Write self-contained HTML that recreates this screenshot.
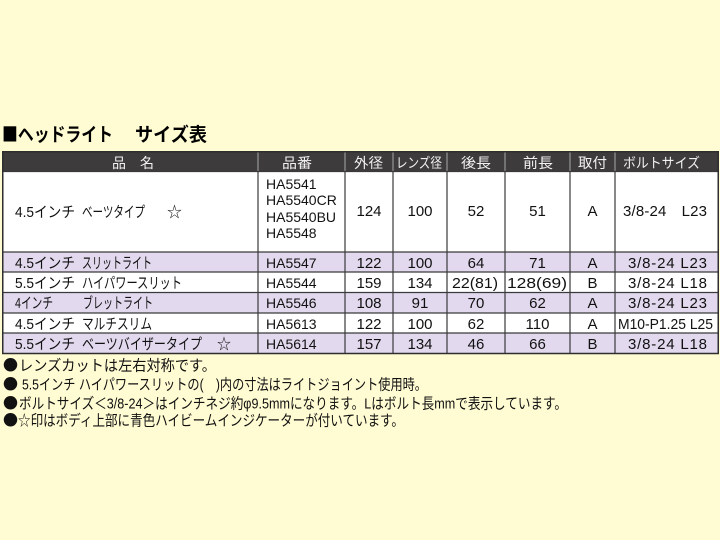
<!DOCTYPE html>
<html><head><meta charset="utf-8"><style>
html,body{margin:0;padding:0;background:#fffbd2;}
svg{display:block;}
text{font-family:"Liberation Sans","Noto Sans CJK JP",sans-serif;fill:#111;}
.j{font-family:"Noto Sans CJK JP",sans-serif;}
.h{fill:#f2f2f2;font-size:14px;}
.n{font-size:15px;text-anchor:middle;}
.c{font-size:15px;}
.p{font-size:14px;}
.t{font-size:19px;font-weight:bold;fill:#000;}
</style></head><body>
<svg width="720" height="540" viewBox="0 0 720 540" xmlns="http://www.w3.org/2000/svg">
<rect width="720" height="540" fill="#fffbd2"/>
<!-- title -->
<text class="t j" x="2" y="141" textLength="111" lengthAdjust="spacingAndGlyphs">■ヘッドライト</text>
<text class="t j" x="135" y="141" textLength="72" lengthAdjust="spacingAndGlyphs">サイズ表</text>

<!-- row fills -->
<rect x="3" y="152" width="715" height="19.5" fill="#3d3b3c"/>
<rect x="3" y="171.5" width="715" height="80.5" fill="#ffffff"/>
<rect x="3" y="252" width="715" height="20" fill="#e2d9ee"/>
<rect x="3" y="272" width="715" height="20.5" fill="#ffffff"/>
<rect x="3" y="292.5" width="715" height="20.5" fill="#e2d9ee"/>
<rect x="3" y="313" width="715" height="20" fill="#ffffff"/>
<rect x="3" y="333" width="715" height="20.5" fill="#e2d9ee"/>

<!-- header separators -->
<g stroke="#a8a8a8" stroke-width="1">
<line x1="258" y1="152" x2="258" y2="171.5"/>
<line x1="345" y1="152" x2="345" y2="171.5"/>
<line x1="393" y1="152" x2="393" y2="171.5"/>
<line x1="447" y1="152" x2="447" y2="171.5"/>
<line x1="505" y1="152" x2="505" y2="171.5"/>
<line x1="570" y1="152" x2="570" y2="171.5"/>
<line x1="615" y1="152" x2="615" y2="171.5"/>
</g>
<!-- body grid -->
<g stroke="#3a3a3a" stroke-width="1.2">
<line x1="258" y1="171.5" x2="258" y2="353.5"/>
<line x1="345" y1="171.5" x2="345" y2="353.5"/>
<line x1="393" y1="171.5" x2="393" y2="353.5"/>
<line x1="447" y1="171.5" x2="447" y2="353.5"/>
<line x1="505" y1="171.5" x2="505" y2="353.5"/>
<line x1="570" y1="171.5" x2="570" y2="353.5"/>
<line x1="615" y1="171.5" x2="615" y2="353.5"/>
<line x1="3" y1="171.5" x2="718" y2="171.5"/>
<line x1="3" y1="252" x2="718" y2="252"/>
<line x1="3" y1="272" x2="718" y2="272"/>
<line x1="3" y1="292.5" x2="718" y2="292.5"/>
<line x1="3" y1="313" x2="718" y2="313"/>
<line x1="3" y1="333" x2="718" y2="333"/>
</g>
<rect x="2.75" y="151.75" width="715.5" height="201.75" fill="none" stroke="#2e2e2e" stroke-width="1.5"/>

<!-- header text -->
<text class="h j" x="112" y="168">品</text>
<text class="h j" x="140" y="168">名</text>
<text class="h j" x="282" y="168" textLength="30" lengthAdjust="spacingAndGlyphs">品番</text>
<text class="h j" x="354" y="168" textLength="29" lengthAdjust="spacingAndGlyphs">外径</text>
<text class="h j" x="396" y="168" textLength="46" lengthAdjust="spacingAndGlyphs">レンズ径</text>
<text class="h j" x="461" y="168" textLength="30" lengthAdjust="spacingAndGlyphs">後長</text>
<text class="h j" x="523" y="168" textLength="30" lengthAdjust="spacingAndGlyphs">前長</text>
<text class="h j" x="578" y="168" textLength="29" lengthAdjust="spacingAndGlyphs">取付</text>
<text class="h j" x="623" y="168" textLength="77" lengthAdjust="spacingAndGlyphs">ボルトサイズ</text>

<!-- row 1 -->
<text class="c" x="15" y="217" textLength="60" lengthAdjust="spacingAndGlyphs">4.5インチ</text>
<text class="c" x="82" y="217" textLength="63" lengthAdjust="spacingAndGlyphs">ベーツタイプ</text>
<text class="c j" x="167" y="217" textLength="15" lengthAdjust="spacingAndGlyphs">☆</text>
<text class="p" x="266" y="189">HA5541</text>
<text class="p" x="266" y="205">HA5540CR</text>
<text class="p" x="266" y="222">HA5540BU</text>
<text class="p" x="266" y="238">HA5548</text>
<text class="n" x="369" y="216">124</text>
<text class="n" x="420" y="216">100</text>
<text class="n" x="476" y="216">52</text>
<text class="n" x="537.5" y="216">51</text>
<text class="n" x="592.5" y="216">A</text>
<text class="c" x="623" y="216" textLength="84" lengthAdjust="spacing">3/8-24　L23</text>

<!-- row 2 -->
<text class="c" x="15" y="268" textLength="60" lengthAdjust="spacingAndGlyphs">4.5インチ</text>
<text class="c" x="82" y="268" textLength="70" lengthAdjust="spacingAndGlyphs">スリットライト</text>
<text class="p" x="266" y="268">HA5547</text>
<text class="n" x="369" y="268">122</text>
<text class="n" x="420" y="268">100</text>
<text class="n" x="476" y="268">64</text>
<text class="n" x="537.5" y="268">71</text>
<text class="n" x="592.5" y="268">A</text>
<text class="c" x="628" y="268" textLength="79" lengthAdjust="spacing">3/8-24 L23</text>

<!-- row 3 -->
<text class="c" x="15" y="288" textLength="60" lengthAdjust="spacingAndGlyphs">5.5インチ</text>
<text class="c" x="82" y="288" textLength="100" lengthAdjust="spacingAndGlyphs">ハイパワースリット</text>
<text class="p" x="266" y="288">HA5544</text>
<text class="n" x="369" y="288">159</text>
<text class="n" x="420" y="288">134</text>
<text class="c" x="452" y="288" textLength="46" lengthAdjust="spacingAndGlyphs">22(81)</text>
<text class="c" x="507" y="288" textLength="60" lengthAdjust="spacingAndGlyphs">128(69)</text>
<text class="n" x="592.5" y="288">B</text>
<text class="c" x="628" y="288" textLength="79" lengthAdjust="spacing">3/8-24 L18</text>

<!-- row 4 -->
<text class="c" x="15" y="308" textLength="38" lengthAdjust="spacingAndGlyphs">4インチ</text>
<text class="c" x="83" y="308" textLength="70" lengthAdjust="spacingAndGlyphs">ブレットライト</text>
<text class="p" x="266" y="308">HA5546</text>
<text class="n" x="369" y="308">108</text>
<text class="n" x="420" y="308">91</text>
<text class="n" x="476" y="308">70</text>
<text class="n" x="537.5" y="308">62</text>
<text class="n" x="592.5" y="308">A</text>
<text class="c" x="628" y="308" textLength="79" lengthAdjust="spacing">3/8-24 L23</text>

<!-- row 5 -->
<text class="c" x="15" y="329" textLength="60" lengthAdjust="spacingAndGlyphs">4.5インチ</text>
<text class="c" x="82" y="329" textLength="70" lengthAdjust="spacingAndGlyphs">マルチスリム</text>
<text class="p" x="266" y="329">HA5613</text>
<text class="n" x="369" y="329">122</text>
<text class="n" x="420" y="329">100</text>
<text class="n" x="476" y="329">62</text>
<text class="n" x="537.5" y="329">110</text>
<text class="n" x="592.5" y="329">A</text>
<text class="c" x="618" y="329" textLength="95" lengthAdjust="spacingAndGlyphs">M10-P1.25 L25</text>

<!-- row 6 -->
<text class="c" x="15" y="349" textLength="60" lengthAdjust="spacingAndGlyphs">5.5インチ</text>
<text class="c" x="82" y="349" textLength="120" lengthAdjust="spacingAndGlyphs">ベーツバイザータイプ</text>
<text class="c j" x="217" y="349" textLength="14" lengthAdjust="spacingAndGlyphs">☆</text>
<text class="p" x="266" y="349">HA5614</text>
<text class="n" x="369" y="349">157</text>
<text class="n" x="420" y="349">134</text>
<text class="n" x="476" y="349">46</text>
<text class="n" x="537.5" y="349">66</text>
<text class="n" x="592.5" y="349">B</text>
<text class="c" x="628" y="349" textLength="79" lengthAdjust="spacing">3/8-24 L18</text>

<!-- notes -->
<text class="c j" x="3" y="370.5" textLength="15" lengthAdjust="spacingAndGlyphs">●</text>
<text class="c" x="19" y="370.5" textLength="197" lengthAdjust="spacingAndGlyphs">レンズカットは左右対称です。</text>
<text class="c j" x="3" y="389.5" textLength="15" lengthAdjust="spacingAndGlyphs">●</text>
<text class="c" x="22" y="389.5" textLength="405" lengthAdjust="spacingAndGlyphs">5.5インチ ハイパワースリットの(　)内の寸法はライトジョイント使用時。</text>
<text class="c j" x="3" y="408.5" textLength="15" lengthAdjust="spacingAndGlyphs">●</text>
<text class="c" x="19" y="408.5" textLength="548" lengthAdjust="spacingAndGlyphs">ボルトサイズ＜3/8-24＞はインチネジ約φ9.5mmになります。Lはボルト長mmで表示しています。</text>
<text class="c j" x="3" y="425.5" textLength="15" lengthAdjust="spacingAndGlyphs">●</text>
<text class="c" x="18" y="425.5" textLength="386" lengthAdjust="spacingAndGlyphs"><tspan class="j">☆</tspan>印はボディ上部に青色ハイビームインジケーターが付いています。</text>
</svg>
</body></html>
